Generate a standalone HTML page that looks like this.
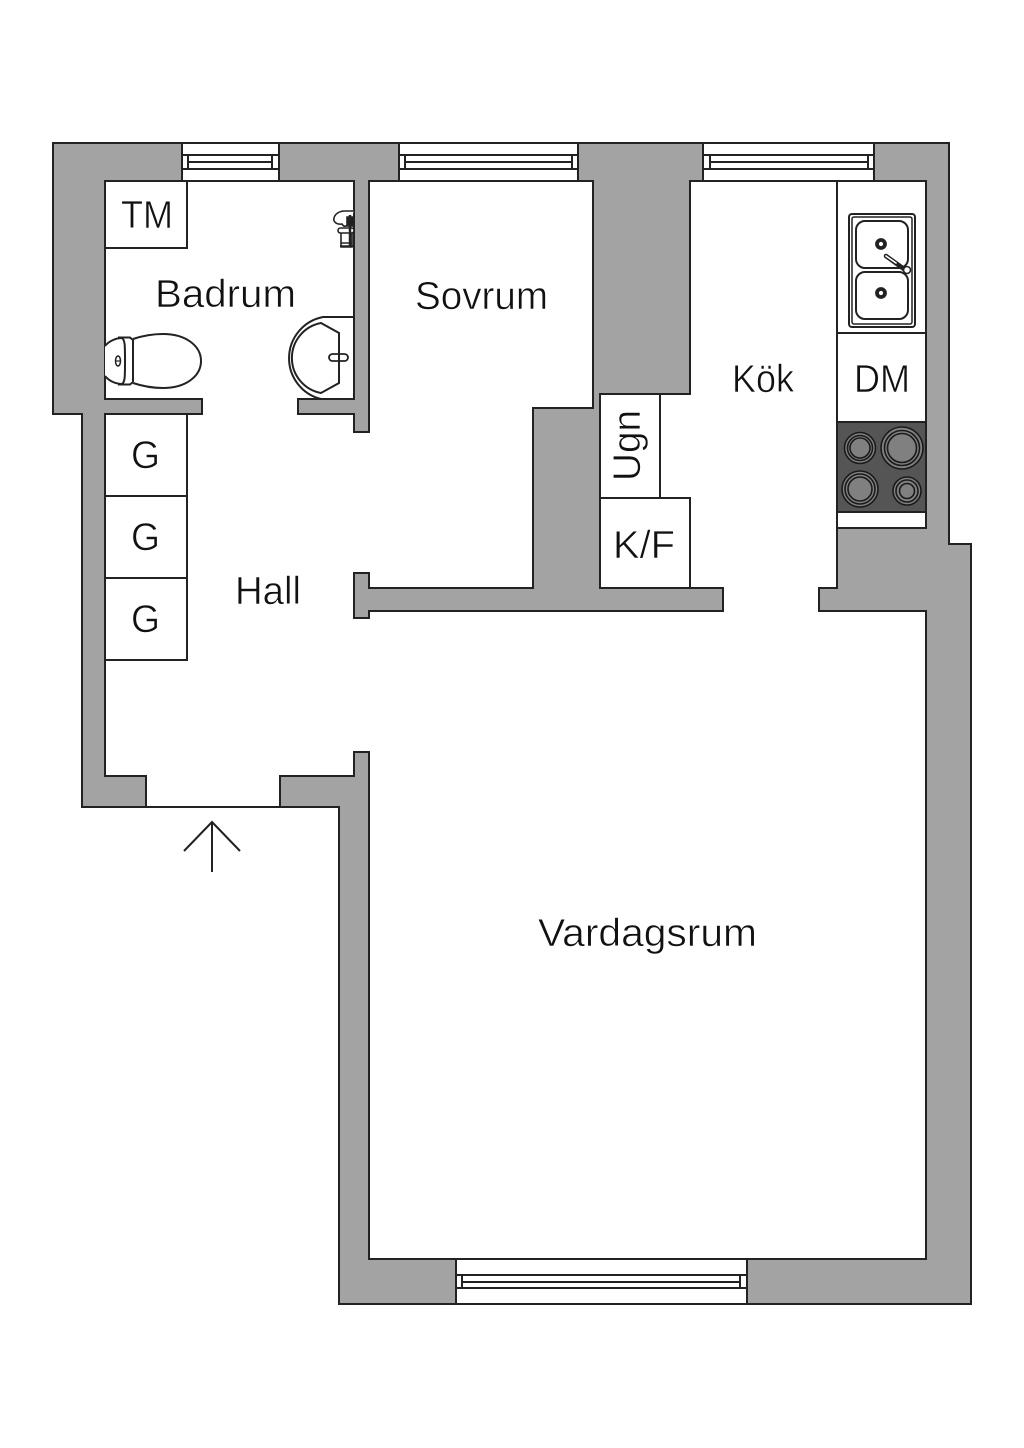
<!DOCTYPE html>
<html>
<head>
<meta charset="utf-8">
<style>
html,body{margin:0;padding:0;background:#fff;width:1024px;height:1448px;overflow:hidden}
svg{display:block}
text{font-family:"Liberation Sans",sans-serif;font-size:39px;fill:#111;stroke:#fff;stroke-width:.6}
</style>
</head>
<body>
<svg width="1024" height="1448" viewBox="0 0 1024 1448" xmlns="http://www.w3.org/2000/svg">
<rect width="1024" height="1448" fill="#fff"/>
<g stroke="#222" stroke-width="2" fill="none">
<!-- outer walls -->
<polygon fill="#a3a3a3" points="53,143 949,143 949,544 971,544 971,1304 339,1304 339,807 82,807 82,414 53,414"/>
<!-- interior -->
<polygon fill="#fff" points="105,181 354,181 354,399 298,399 298,414 354,414 354,432 369,432 369,181 593,181 593,408 533,408 533,588 369,588 369,573 354,573 354,618 369,618 369,611 723,611 723,588 600,588 600,394 690,394 690,181 926,181 926,528 837,528 837,588 819,588 819,611 926,611 926,1259 369,1259 369,752 354,752 354,776 280,776 280,807 146,807 146,776 105,776 105,414 202,414 202,399 105,399"/>
<!-- windows -->
<rect x="182" y="143" width="97" height="38" fill="#fff"/>
<path d="M182 155H279M188 162H272M182 169H279M188 155V169M272 155V169"/>
<rect x="399" y="143" width="179" height="38" fill="#fff"/>
<path d="M399 155H578M405 162H572M399 169H578M405 155V169M572 155V169"/>
<rect x="703" y="143" width="171" height="38" fill="#fff"/>
<path d="M703 155H874M710 162H868M703 169H874M710 155V169M868 155V169"/>
<rect x="456" y="1259" width="291" height="45" fill="#fff"/>
<path d="M456 1275H747M462 1282H740M456 1288H747M462 1275V1288M740 1275V1288"/>
<!-- cabinets -->
<rect x="105" y="181" width="82" height="67"/>
<rect x="105" y="414" width="82" height="82"/>
<rect x="105" y="496" width="82" height="82"/>
<rect x="105" y="578" width="82" height="82"/>
<rect x="600" y="394" width="60" height="104"/>
<rect x="600" y="498" width="90" height="90"/>
<path d="M837 181V528M837 333H926"/>
<!-- stove -->
<rect x="837" y="422" width="89" height="90" fill="#555"/>
<g fill="#808080" stroke="#1a1a1a" stroke-width="1.6">
<circle cx="860" cy="448" r="15.5"/><circle cx="860" cy="448" r="12.5"/><circle cx="860" cy="448" r="10"/>
<circle cx="902" cy="448" r="21"/><circle cx="902" cy="448" r="17.5"/><circle cx="902" cy="448" r="14.5"/>
<circle cx="860" cy="489" r="18"/><circle cx="860" cy="489" r="15"/><circle cx="860" cy="489" r="12"/>
<circle cx="907" cy="491" r="14"/><circle cx="907" cy="491" r="11"/><circle cx="907" cy="491" r="7.5"/>
</g>
<!-- kitchen sink -->
<rect x="849" y="214" width="66" height="113" rx="3"/>
<rect x="852" y="217" width="60" height="107" rx="2" stroke-width="1.5"/>
<rect x="856" y="221" width="52" height="47" rx="9"/>
<rect x="856" y="272" width="52" height="47" rx="9"/>
<circle cx="881" cy="244" r="4" stroke-width="3.8"/>
<circle cx="881" cy="293" r="4" stroke-width="3.8"/>
<path d="M886 256L904 269" stroke-width="4.5" stroke="#222" stroke-linecap="round"/>
<path d="M886 256L896 263" stroke-width="1.6" stroke="#fff" stroke-linecap="round"/>
<circle cx="907" cy="270" r="3.5" fill="#fff" stroke-width="1.6"/>
<!-- toilet -->
<path d="M105 346C109 341 116 338 122 338C125 340 125 345 125 361C125 377 125 382 122 384C116 384 109 381 105 376" fill="#fff"/>
<path d="M118 337.5H130L133 340M118 384.5H130L133 382M133 340V382"/>
<path d="M133 339C145 335 155 334 163 334C186 334 201 346 201 361C201 376 186 388 163 388C155 388 145 387 133 383"/>
<ellipse cx="118" cy="361" rx="2.5" ry="5" stroke-width="1.5"/>
<path d="M115 361H121" stroke-width="1.2"/>
<!-- bath sink -->
<path d="M354 317H323A42 42 0 0 0 321 399"/>
<path d="M321 323L339 333V383L321 393A35.6 35.6 0 0 1 321 323Z"/>
<rect x="329" y="354" width="19" height="7" rx="3.5" stroke-width="1.8"/>
<!-- wall fixture -->
<g stroke-width="1.6">
<path d="M354 211H345C339 211 335 214 334 218C333 222 337 225 342 224C344 228 348 226 349 222" fill="#fff"/>
<path d="M347 217H354V226H347Z" fill="#222"/>
<rect x="338" y="228" width="16" height="5" rx="2.5" fill="#fff"/>
<path d="M341 233V247H352V233"/>
<path d="M340 246H353M341 243H352" stroke-width="1.4"/>
<path d="M350 215V247" stroke-width="2.5"/>
</g>
<!-- entrance arrow -->
<path d="M184 851L212 822L240 851M212 822V872"/>
</g>
<!-- labels -->
<text x="121" y="228" textLength="52" lengthAdjust="spacingAndGlyphs">TM</text>
<text x="155" y="307" textLength="141" lengthAdjust="spacingAndGlyphs">Badrum</text>
<text x="415" y="309" textLength="133" lengthAdjust="spacingAndGlyphs">Sovrum</text>
<text x="732" y="392" textLength="62" lengthAdjust="spacingAndGlyphs">Kök</text>
<text x="854" y="392" textLength="56" lengthAdjust="spacingAndGlyphs">DM</text>
<text x="131" y="468" textLength="29" lengthAdjust="spacingAndGlyphs">G</text>
<text x="131" y="550" textLength="29" lengthAdjust="spacingAndGlyphs">G</text>
<text x="131" y="632" textLength="29" lengthAdjust="spacingAndGlyphs">G</text>
<text x="235" y="604" textLength="66" lengthAdjust="spacingAndGlyphs">Hall</text>
<text x="613" y="558" textLength="62" lengthAdjust="spacingAndGlyphs">K/F</text>
<text transform="translate(640 481) rotate(-90)" x="0" y="0" textLength="71" lengthAdjust="spacingAndGlyphs">Ugn</text>
<text x="538" y="946" textLength="219" lengthAdjust="spacingAndGlyphs">Vardagsrum</text>
</svg>
</body>
</html>
